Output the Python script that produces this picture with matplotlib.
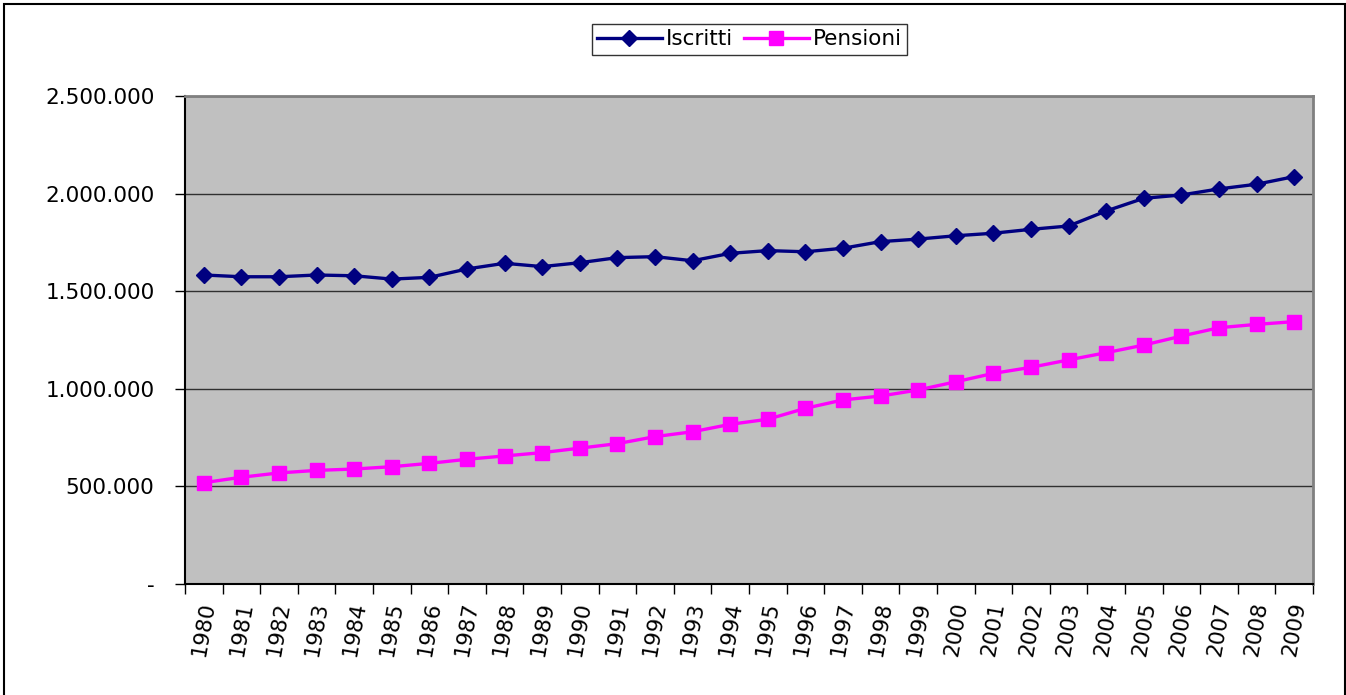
import numpy as np
import matplotlib
matplotlib.use('Agg')
import matplotlib.pyplot as plt
from matplotlib.ticker import FuncFormatter, FixedLocator
from matplotlib.patches import Rectangle

# Data
years = list(range(1980, 2010))
iscritti = [1583000, 1574000, 1574000, 1583000, 1579000, 1562000, 1571000, 1614000,
            1643000, 1626000, 1646000, 1672000, 1677000, 1656000, 1694000, 1708000,
            1702000, 1720000, 1754000, 1767000, 1784000, 1797000, 1817000, 1834000,
            1911000, 1976000, 1993000, 2024000, 2048000, 2087000]
pensioni = [519000, 547000, 569000, 582000, 589000, 601000, 618000, 639000,
            656000, 673000, 696000, 719000, 755000, 780000, 818000, 844000,
            900000, 943000, 963000, 994000, 1036000, 1079000, 1110000, 1148000,
            1185000, 1224000, 1270000, 1313000, 1330000, 1344000]

W, H = 1346, 695
fig = plt.figure(figsize=(W / 100, H / 100), dpi=100)
ax = fig.add_axes([185 / W, 1 - 584 / H, (1313 - 185) / W, (584 - 96) / H])
ax.set_facecolor('#C0C0C0')

x = np.arange(len(years))
ax.plot(x, iscritti, color='#000080', lw=2.4, marker='D', ms=8, label='Iscritti')
ax.plot(x, pensioni, color='#FF00FF', lw=2.4, marker='s', ms=10.5, label='Pensioni')

ax.set_xlim(-0.5, len(years) - 0.5)
ax.set_ylim(0, 2500000)
ax.set_yticks(np.arange(0, 2500001, 500000))


def fmt(v, pos):
    if v == 0:
        return '-'
    return f'{int(v):,}'.replace(',', '.')


ax.yaxis.set_major_formatter(FuncFormatter(fmt))
ax.yaxis.grid(True, color='#303030', lw=1)
ax.set_axisbelow(True)
ax.tick_params(axis='y', length=7, width=1, labelsize=15.5, pad=15)

ax.set_xticks(x)
ax.set_xticklabels([str(y) for y in years], rotation=80, ha='center', va='top')
ax.xaxis.set_minor_locator(FixedLocator(np.arange(-0.5, len(years), 1)))
ax.tick_params(axis='x', which='major', length=0, labelsize=15.5, pad=11.5)
ax.tick_params(axis='x', which='minor', length=7, width=1)

for s in ['left', 'bottom']:
    ax.spines[s].set_color('black')
    ax.spines[s].set_linewidth(1.5)
for s in ['top', 'right']:
    ax.spines[s].set_color('#808080')
    ax.spines[s].set_linewidth(2)

leg = fig.legend(loc='upper center', bbox_to_anchor=(749.5 / W, 1 - 24 / H),
                 ncol=2, fontsize=15.5, frameon=True, fancybox=False,
                 handlelength=3.0, handletextpad=0.2, columnspacing=0.5,
                 borderpad=0.25, borderaxespad=0)
leg.get_frame().set_edgecolor('black')
leg.get_frame().set_linewidth(1)

# chart area border
fig.patches.append(Rectangle((4 / W, -0.05), (1345 - 4) / W, 1.05 - 3.5 / H,
                             transform=fig.transFigure, fill=False,
                             edgecolor='black', lw=1.5))

fig.savefig('out.png', dpi=100)
